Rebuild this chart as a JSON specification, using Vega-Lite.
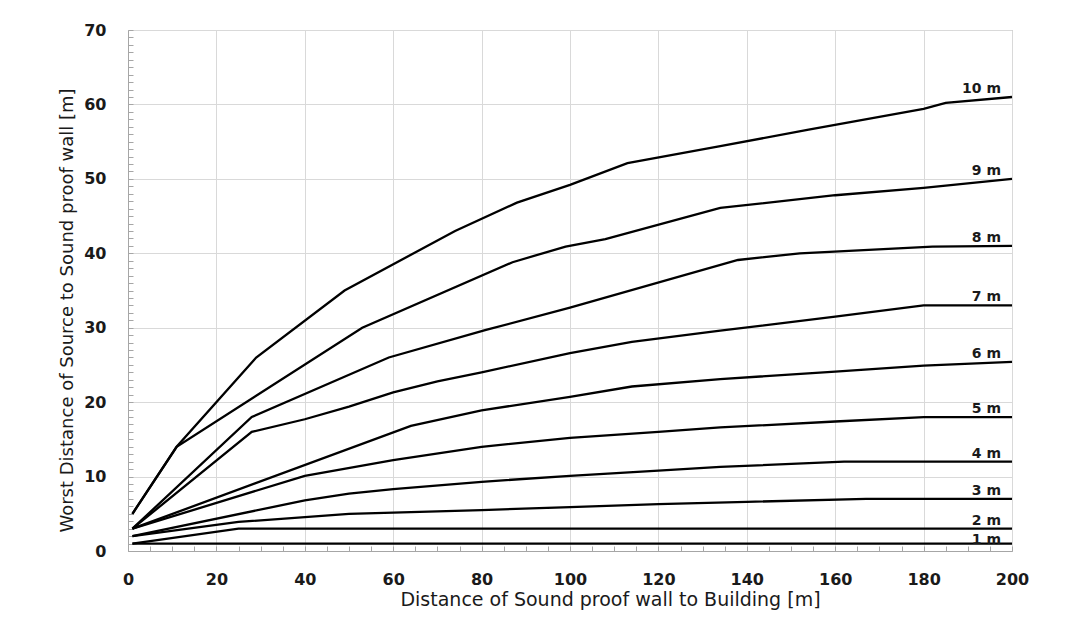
{
  "$schema": "https://vega.github.io/schema/vega-lite/v6.json",
  "width": 884,
  "height": 521,
  "autosize": {"type": "none"},
  "padding": {"left": 128, "top": 30, "right": 59, "bottom": 68},
  "background": "white",
  "config": {
    "view": {"stroke": "#a6a6a6", "strokeWidth": 1},
    "font": "DejaVu Sans"
  },
  "data": {
    "values": [
      {"series": "1 m", "x": 1, "y": 1}, {"series": "1 m", "x": 200, "y": 1},
      {"series": "2 m", "x": 1, "y": 1}, {"series": "2 m", "x": 25, "y": 3}, {"series": "2 m", "x": 200, "y": 3},
      {"series": "3 m", "x": 1, "y": 2}, {"series": "3 m", "x": 25, "y": 3.9}, {"series": "3 m", "x": 50, "y": 5}, {"series": "3 m", "x": 80, "y": 5.5}, {"series": "3 m", "x": 100, "y": 5.9}, {"series": "3 m", "x": 120, "y": 6.3}, {"series": "3 m", "x": 140, "y": 6.6}, {"series": "3 m", "x": 167, "y": 7}, {"series": "3 m", "x": 200, "y": 7},
      {"series": "4 m", "x": 1, "y": 2}, {"series": "4 m", "x": 40, "y": 6.8}, {"series": "4 m", "x": 50, "y": 7.7}, {"series": "4 m", "x": 60, "y": 8.3}, {"series": "4 m", "x": 80, "y": 9.3}, {"series": "4 m", "x": 100, "y": 10.1}, {"series": "4 m", "x": 120, "y": 10.8}, {"series": "4 m", "x": 134, "y": 11.3}, {"series": "4 m", "x": 162, "y": 12}, {"series": "4 m", "x": 200, "y": 12},
      {"series": "5 m", "x": 1, "y": 3}, {"series": "5 m", "x": 40, "y": 10.1}, {"series": "5 m", "x": 60, "y": 12.2}, {"series": "5 m", "x": 80, "y": 14}, {"series": "5 m", "x": 100, "y": 15.2}, {"series": "5 m", "x": 120, "y": 16}, {"series": "5 m", "x": 134, "y": 16.6}, {"series": "5 m", "x": 160, "y": 17.4}, {"series": "5 m", "x": 180, "y": 18}, {"series": "5 m", "x": 200, "y": 18},
      {"series": "6 m", "x": 1, "y": 3}, {"series": "6 m", "x": 64, "y": 16.8}, {"series": "6 m", "x": 80, "y": 18.9}, {"series": "6 m", "x": 100, "y": 20.7}, {"series": "6 m", "x": 114, "y": 22.1}, {"series": "6 m", "x": 134, "y": 23.1}, {"series": "6 m", "x": 160, "y": 24.1}, {"series": "6 m", "x": 180, "y": 24.9}, {"series": "6 m", "x": 200, "y": 25.4},
      {"series": "7 m", "x": 1, "y": 3}, {"series": "7 m", "x": 28, "y": 16}, {"series": "7 m", "x": 40, "y": 17.7}, {"series": "7 m", "x": 50, "y": 19.4}, {"series": "7 m", "x": 60, "y": 21.3}, {"series": "7 m", "x": 70, "y": 22.8}, {"series": "7 m", "x": 80, "y": 24}, {"series": "7 m", "x": 100, "y": 26.6}, {"series": "7 m", "x": 114, "y": 28.1}, {"series": "7 m", "x": 134, "y": 29.6}, {"series": "7 m", "x": 160, "y": 31.5}, {"series": "7 m", "x": 180, "y": 33}, {"series": "7 m", "x": 200, "y": 33},
      {"series": "8 m", "x": 1, "y": 3}, {"series": "8 m", "x": 28, "y": 18}, {"series": "8 m", "x": 59, "y": 26}, {"series": "8 m", "x": 81, "y": 29.7}, {"series": "8 m", "x": 100, "y": 32.7}, {"series": "8 m", "x": 138, "y": 39.1}, {"series": "8 m", "x": 152, "y": 40}, {"series": "8 m", "x": 182, "y": 40.9}, {"series": "8 m", "x": 200, "y": 41},
      {"series": "9 m", "x": 1, "y": 5}, {"series": "9 m", "x": 11, "y": 14}, {"series": "9 m", "x": 53, "y": 30}, {"series": "9 m", "x": 87, "y": 38.8}, {"series": "9 m", "x": 99, "y": 40.9}, {"series": "9 m", "x": 108, "y": 41.9}, {"series": "9 m", "x": 134, "y": 46.1}, {"series": "9 m", "x": 160, "y": 47.8}, {"series": "9 m", "x": 180, "y": 48.8}, {"series": "9 m", "x": 200, "y": 50},
      {"series": "10 m", "x": 1, "y": 5}, {"series": "10 m", "x": 11, "y": 14}, {"series": "10 m", "x": 29, "y": 26}, {"series": "10 m", "x": 49, "y": 35}, {"series": "10 m", "x": 74, "y": 43}, {"series": "10 m", "x": 88, "y": 46.8}, {"series": "10 m", "x": 100, "y": 49.2}, {"series": "10 m", "x": 113, "y": 52.1}, {"series": "10 m", "x": 134, "y": 54.4}, {"series": "10 m", "x": 154, "y": 56.6}, {"series": "10 m", "x": 180, "y": 59.4}, {"series": "10 m", "x": 185, "y": 60.2}, {"series": "10 m", "x": 200, "y": 61}
    ]
  },
  "encoding": {
    "x": {
      "field": "x", "type": "quantitative",
      "scale": {"domain": [0, 200], "nice": false, "zero": true},
      "axis": {
        "values": [0,5,10,15,20,25,30,35,40,45,50,55,60,65,70,75,80,85,90,95,100,105,110,115,120,125,130,135,140,145,150,155,160,165,170,175,180,185,190,195,200],
        "labelExpr": "datum.value % 20 === 0 ? datum.label : ''",
        "labelOverlap": false,
        "labelFlush": false,
        "labelFont": "DejaVu Sans",
        "labelFontWeight": "bold",
        "labelFontSize": 16,
        "labelColor": "#1a1a1a",
        "labelPadding": 25,
        "tickSize": -5,
        "tickColor": "#a6a6a6",
        "domainColor": "#a6a6a6",
        "grid": true,
        "gridColor": "#d9d9d9",
        "gridOpacity": {"condition": {"test": "datum.value % 20 === 0", "value": 1}, "value": 0},
        "title": "Distance of Sound proof wall to Building [m]",
        "titleFont": "DejaVu Sans",
        "titleFontSize": 19,
        "titleFontWeight": "normal",
        "titleColor": "#1a1a1a",
        "titleX": 482,
        "titleY": 54,
        "titleBaseline": "alphabetic"
      }
    },
    "y": {
      "field": "y", "type": "quantitative",
      "scale": {"domain": [0, 70], "nice": false},
      "axis": {
        "values": [0,1,2,3,4,5,6,7,8,9,10,11,12,13,14,15,16,17,18,19,20,21,22,23,24,25,26,27,28,29,30,31,32,33,34,35,36,37,38,39,40,41,42,43,44,45,46,47,48,49,50,51,52,53,54,55,56,57,58,59,60,61,62,63,64,65,66,67,68,69,70],
        "labelExpr": "datum.value % 10 === 0 ? datum.label : ''",
        "labelOverlap": false,
        "labelFlush": false,
        "labelFont": "DejaVu Sans",
        "labelFontWeight": "bold",
        "labelFontSize": 16,
        "labelColor": "#1a1a1a",
        "labelPadding": 27,
        "tickSize": -5,
        "tickColor": "#a6a6a6",
        "domainColor": "#a6a6a6",
        "grid": true,
        "gridColor": "#d9d9d9",
        "gridOpacity": {"condition": {"test": "datum.value % 10 === 0", "value": 1}, "value": 0},
        "title": "Worst Distance of Source to Sound proof wall [m]",
        "titleFont": "DejaVu Sans",
        "titleFontSize": 18,
        "titleFontWeight": "normal",
        "titleColor": "#1a1a1a",
        "titleX": -56,
        "titleY": 280,
        "titleBaseline": "alphabetic"
      }
    }
  },
  "layer": [
    {
      "mark": {"type": "line", "color": "black", "strokeWidth": 2.3},
      "encoding": {
        "detail": {"field": "series", "type": "nominal"}
      }
    },
    {
      "transform": [{"filter": "datum.x === 200 && datum.series !== '1 m'"}],
      "mark": {"type": "text", "align": "right", "baseline": "alphabetic", "dx": -11, "dy": -4, "font": "DejaVu Sans", "fontWeight": "bold", "fontSize": 14, "color": "#1a1a1a"},
      "encoding": {
        "text": {"field": "series", "type": "nominal"}
      }
    },
    {
      "transform": [{"filter": "datum.x === 200 && datum.series === '1 m'"}],
      "mark": {"type": "text", "align": "right", "baseline": "alphabetic", "dx": -11, "dy": 0, "font": "DejaVu Sans", "fontWeight": "bold", "fontSize": 14, "color": "#1a1a1a"},
      "encoding": {
        "text": {"field": "series", "type": "nominal"}
      }
    }
  ]
}
